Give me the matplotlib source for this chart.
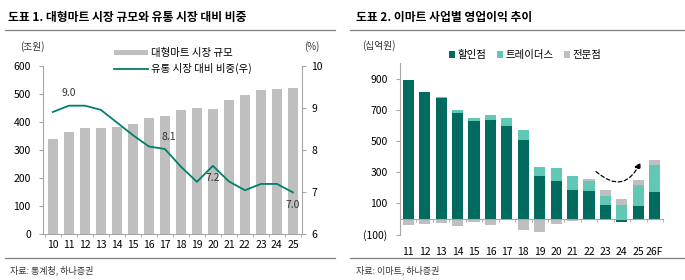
import matplotlib.pyplot as plt
import numpy as np
from matplotlib.patches import Patch
from matplotlib.lines import Line2D

plt.rcParams['font.family'] = ['Noto Sans CJK KR', 'DejaVu Sans']

# chart 1: 대형마트 시장 규모 (조원) and 유통 시장 대비 비중 (%)
years1 = ['10', '11', '12', '13', '14', '15', '16', '17',
          '18', '19', '20', '21', '22', '23', '24', '25']
market = [340, 365, 377, 379, 382, 393, 412, 422,
          441, 448, 444, 478, 494, 512, 516, 522]
share = [8.9, 9.05, 9.05, 8.95, 8.65, 8.35, 8.08, 8.02,
         7.6, 7.24, 7.62, 7.25, 7.04, 7.19, 7.19, 6.99]
share_labels = {1: '9.0', 7: '8.1', 10: '7.2', 15: '7.0'}

# chart 2: 이마트 사업별 영업이익 (십억원)
years2 = ['11', '12', '13', '14', '15', '16', '17', '18',
          '19', '20', '21', '22', '23', '24', '25', '26F']
discount = [893, 813, 773, 681, 630, 632, 594, 508,
            278, 241, 184, 177, 91, -20, 85, 171]
traders = [0, 0, 11, 19, 20, 35, 56, 65,
           53, 83, 94, 64, 58, 92, 130, 177]
specialty = [-39, -32, -26, -43, -17, -37, -9, -71,
             -82, -32, -11, 17, 39, 38, 32, 32]

GREY = '#BFBFBF'
DARK = '#006B5E'
LIGHT = '#62C8B6'
LINE = '#00806B'
AX = '#A6A6A6'

fig = plt.figure(figsize=(6.85, 2.8), dpi=100)
W, H = 685., 280.

def frac(x0, y0, x1, y1):
    # pixel box (top-left origin) -> figure fraction rect
    return [x0 / W, 1 - y1 / H, (x1 - x0) / W, (y1 - y0) / H]

# titles, rules, sources
fig.text(8 / W, 1 - 17 / H, '도표 1. 대형마트 시장 규모와 유통 시장 대비 비중',
         fontsize=8.5, fontweight='bold', va='center')
fig.text(356 / W, 1 - 17 / H, '도표 2. 이마트 사업별 영업이익 추이',
         fontsize=8.5, fontweight='bold', va='center')
for x0, x1 in [(5, 335), (350, 685)]:
    fig.add_artist(Line2D([x0 / W, x1 / W], [1 - 30 / H] * 2, color='#808080', lw=0.9))
    fig.add_artist(Line2D([x0 / W, x1 / W], [1 - 258 / H] * 2, color='#808080', lw=0.9))
fig.text(10 / W, 1 - 270 / H, '자료: 통계청, 하나증권', fontsize=6.5, va='center', color='#333333')
fig.text(356 / W, 1 - 270 / H, '자료: 이마트, 하나증권', fontsize=6.5, va='center', color='#333333')

# ---- chart 1
ax = fig.add_axes(frac(43.3, 65.7, 301.7, 234))
x1 = np.arange(len(years1))
ax.bar(x1, market, 0.62, color=GREY, label='대형마트 시장 규모')
ax.set_ylim(0, 600)
ax.set_xlim(-0.6, len(years1) - 0.45)
ax.set_yticks(range(0, 601, 100))
ax.set_xticks(x1)
ax.set_xticklabels(years1)
ax.set_xticks(np.arange(-0.5, len(years1), 1), minor=True)
ax.tick_params(axis='x', which='major', length=0, pad=4, labelsize=7.5)
ax.tick_params(axis='x', which='minor', length=2.5, color=AX)
ax.tick_params(axis='y', length=3, color=AX, labelsize=7.5, pad=6)
for s in ['top', 'right']:
    ax.spines[s].set_visible(False)
for s in ['left', 'bottom']:
    ax.spines[s].set_color(AX)

ax2 = ax.twinx()
ax2.plot(x1, share, color=LINE, lw=1.3)
ax2.set_ylim(6, 10)
ax2.set_yticks(range(6, 11))
ax2.tick_params(axis='y', length=3, color=AX, labelsize=7.5, pad=4)
for s in ['top', 'left', 'bottom']:
    ax2.spines[s].set_visible(False)
ax2.spines['right'].set_color(AX)
for i, t in share_labels.items():
    dy = 9 if i in (1, 7) else -9
    dx = 3 if i == 7 else 0
    ax2.annotate(t, (x1[i], share[i]), xytext=(dx, dy), textcoords='offset points',
                 ha='center', va='center', fontsize=7.5, color='#333333')
fig.text(20 / W, 1 - 47 / H, '(조원)', fontsize=7, va='center', color='#333333')
fig.text(304 / W, 1 - 47 / H, '(%)', fontsize=7, va='center', color='#333333')

handles = [Patch(facecolor=GREY, edgecolor='none'),
           Line2D([], [], color=LINE, lw=1.3)]
leg = fig.legend(handles, ['대형마트 시장 규모', '유통 시장 대비 비중(우)'],
                 loc='upper left', bbox_to_anchor=(110 / W, 1 - 44 / H), frameon=False,
                 fontsize=7.5, handlelength=3.2, handleheight=0.45, handletextpad=0.3,
                 labelspacing=0.45, borderaxespad=0)

# ---- chart 2
bx = fig.add_axes(frac(400, 63, 663, 234.6))
x2 = np.arange(len(years2))
d = np.array(discount, float)
t = np.array(traders, float)
s = np.array(specialty, float)
pos = np.zeros(len(x2))
neg = np.zeros(len(x2))
for vals, col, lab in [(d, DARK, '할인점'), (t, LIGHT, '트레이더스'), (s, GREY, '전문점')]:
    base = np.where(vals >= 0, pos, neg)
    bx.bar(x2, vals, 0.68, bottom=base, color=col, label=lab)
    pos = pos + np.clip(vals, 0, None)
    neg = neg + np.clip(vals, None, 0)
bx.set_ylim(-100, 1000)
bx.set_xlim(-0.5, len(years2) - 0.5)
bx.set_yticks([-100, 100, 300, 500, 700, 900])
bx.set_yticklabels(['(100)', '100', '300', '500', '700', '900'])
bx.set_xticks(x2)
bx.set_xticklabels(years2)
bx.set_xticks(np.arange(-0.5, len(years2), 1), minor=True)
bx.spines['bottom'].set_position(('data', 0))
bx.tick_params(axis='x', which='major', length=0, pad=20, labelsize=7.5)
bx.tick_params(axis='x', which='minor', length=2.5, color=AX)
bx.tick_params(axis='y', length=3, color=AX, labelsize=7.5, pad=6)
for sp in ['top', 'right']:
    bx.spines[sp].set_visible(False)
for sp in ['left', 'bottom']:
    bx.spines[sp].set_color(AX)
bx.annotate('', xy=(14.2, 380), xytext=(11.3, 316),
            arrowprops=dict(arrowstyle='-|>', linestyle=(0, (3, 2)), color='black',
                            lw=0.9, connectionstyle='arc3,rad=0.7', mutation_scale=9))
fig.text(362 / W, 1 - 46 / H, '(십억원)', fontsize=7, va='center', color='#333333')
bx.legend(loc='upper left', bbox_to_anchor=(445 / W, 1 - 46 / H),
          bbox_transform=fig.transFigure, ncol=3, frameon=False, fontsize=7.5,
          handlelength=0.6, handleheight=0.6, handletextpad=0.2, columnspacing=1.0,
          borderaxespad=0)

fig.savefig('out.png', dpi=100)
